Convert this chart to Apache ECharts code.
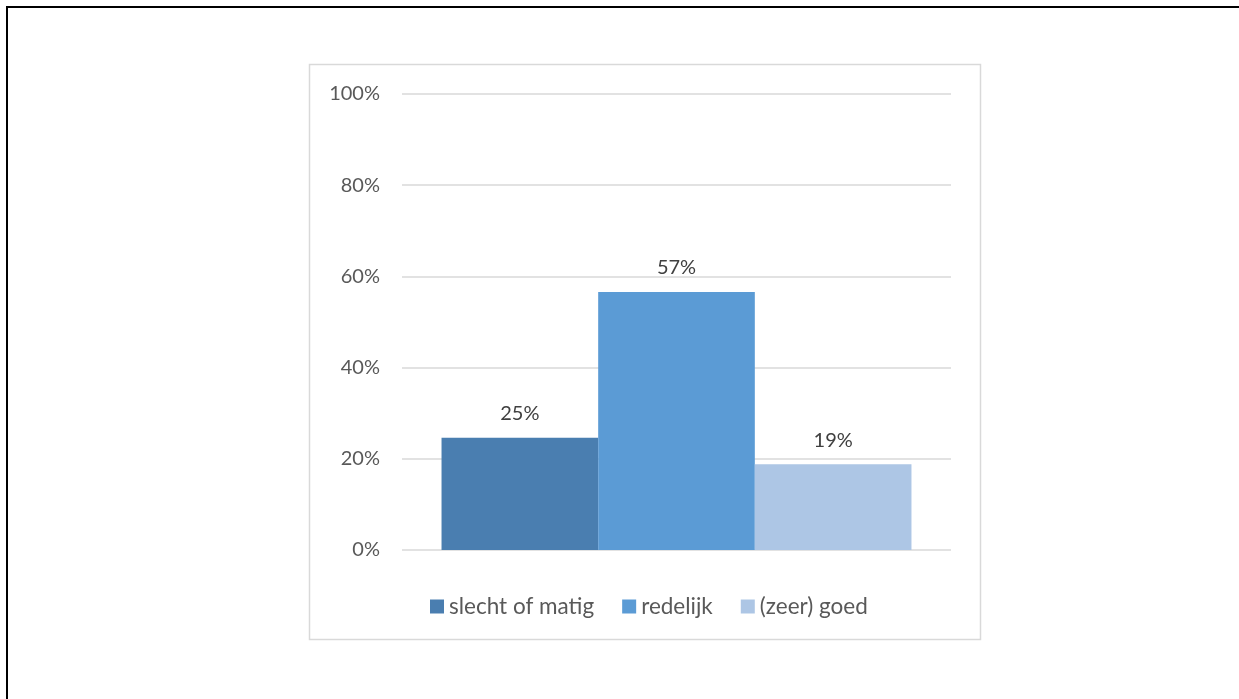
<!DOCTYPE html>
<html>
<head>
<meta charset="utf-8">
<script src="https://cdn.jsdelivr.net/npm/echarts@6/dist/echarts.min.js"></script>
<style>
html,body{margin:0;padding:0;background:#fff;}
#chart{width:1239px;height:699px;}
</style>
</head>
<body>
<div id="chart"></div>
<script>
const categories = [''];
const seriesNames = ['slecht of matig', 'redelijk', '(zeer) goed'];
const seriesValues = [24.6, 56.6, 18.8];
const seriesColors = ['#4a7eb0', '#5b9bd5', '#adc6e5'];
const yTicks = [0, 20, 40, 60, 80, 100];

const FONT = 'Lato';
const chart = echarts.init(document.getElementById('chart'));
const series = seriesNames.map((name, i) => ({
  name: name,
  type: 'bar',
  data: [seriesValues[i]],
  barGap: '0%',
  barCategoryGap: '14.4%',
  itemStyle: { color: seriesColors[i] },
  label: {
    show: true,
    position: 'top',
    distance: 14,
    color: '#404040',
    fontFamily: FONT,
    fontSize: 20,
    formatter: p => Math.round(p.value) + '%'
  }
}));

chart.setOption({
  animation: false,
  backgroundColor: '#fff',
  grid: { left: 402, right: 288, top: 94, bottom: 149 },
  xAxis: {
    type: 'category',
    data: categories,
    axisLine: { show: false },
    axisTick: { show: false },
    axisLabel: { show: false }
  },
  yAxis: {
    type: 'value',
    min: yTicks[0],
    max: yTicks[yTicks.length - 1],
    interval: 20,
    axisLine: { show: false },
    axisTick: { show: false },
    splitLine: { lineStyle: { color: '#d9d9d9', width: 1.5 } },
    axisLabel: {
      color: '#595959',
      fontFamily: FONT,
      fontSize: 20,
      margin: 22,
      formatter: v => v + '%'
    }
  },
  legend: {
    left: 430,
    top: 595,
    padding: 0,
    itemWidth: 14,
    itemHeight: 14,
    itemGap: 28,
    icon: 'rect',
    textStyle: { color: '#595959', fontFamily: FONT, fontSize: 22.5 },
    data: seriesNames
  },
  graphic: [
    {
      type: 'rect',
      silent: true,
      shape: { x: 309.5, y: 64.5, width: 671, height: 575 },
      style: { fill: 'none', stroke: '#d9d9d9', lineWidth: 1.5 },
      z: -1
    },
    {
      type: 'rect',
      silent: true,
      shape: { x: 7, y: 7, width: 1250, height: 720 },
      style: { fill: 'none', stroke: '#000', lineWidth: 2 },
      z: -1
    }
  ],
  series: series
});
</script>
</body>
</html>
